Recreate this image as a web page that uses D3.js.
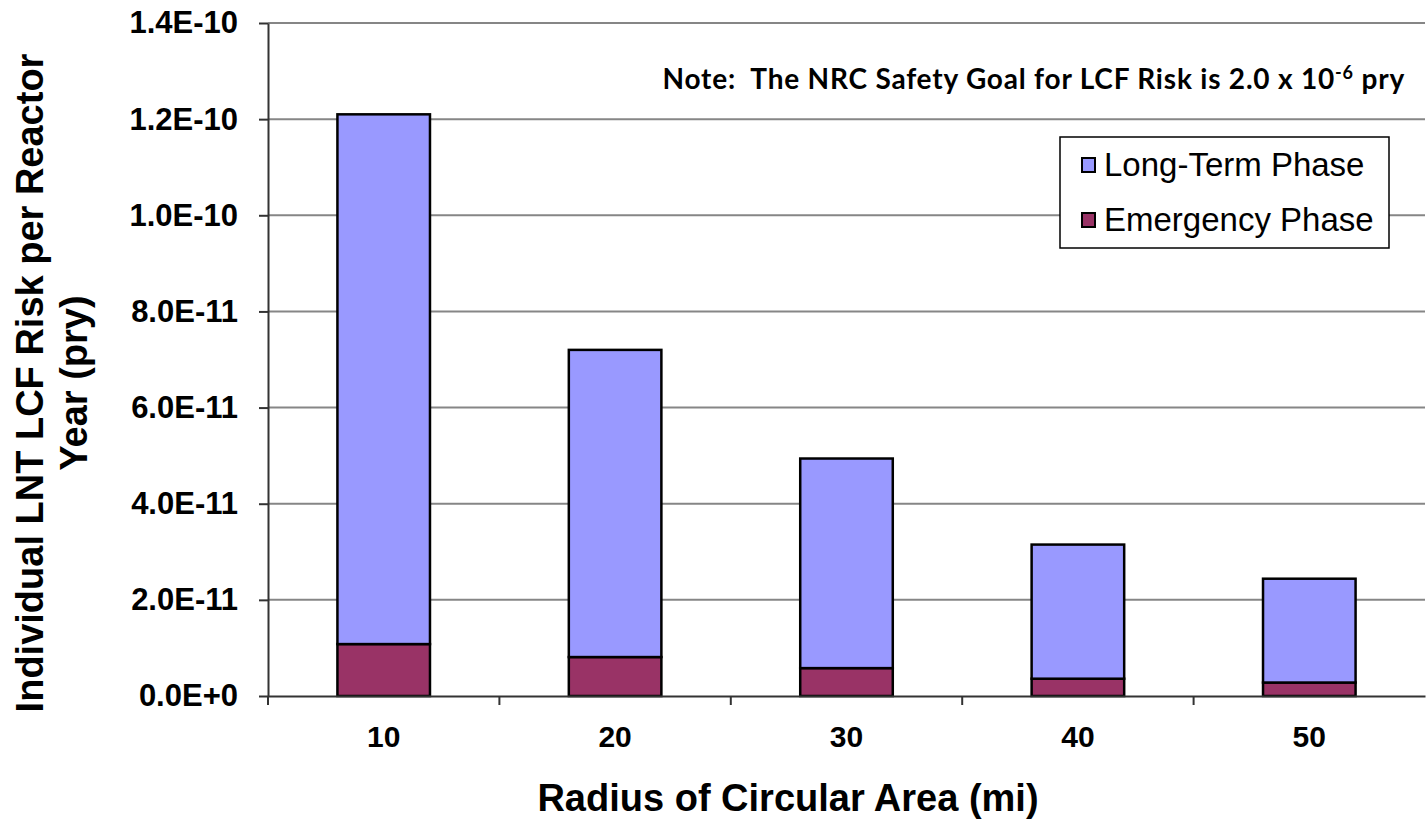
<!DOCTYPE html>
<html>
<head>
<meta charset="utf-8">
<script src="https://cdn.jsdelivr.net/npm/d3@7"></script>
<style>
  body { margin: 0; background: #fff; }
  svg { display: block; }
  .tick text { font-family: "Liberation Sans", Arial, sans-serif; font-weight: bold; fill: #000; }
</style>
</head>
<body>
<div id="chart"></div>
<script>
var radii = ['10', '20', '30', '40', '50'];
var emergencyPhase = [1.08e-11, 8.1e-12, 5.8e-12, 3.6e-12, 2.8e-12];
var longTermPhase = [1.102e-10, 6.39e-11, 4.36e-11, 2.79e-11, 2.16e-11];
var yTickValues = [0, 2e-11, 4e-11, 6e-11, 8e-11, 1e-10, 1.2e-10, 1.4e-10];
var yTickLabels = ['0.0E+0', '2.0E-11', '4.0E-11', '6.0E-11', '8.0E-11', '1.0E-10', '1.2E-10', '1.4E-10'];
var seriesNames = ['Long-Term Phase', 'Emergency Phase'];
var seriesColors = ['#9999ff', '#993366'];

var svgWidth = 1426, svgHeight = 820,
    margin = { top: 23, right: 1, bottom: 124, left: 268 },
    chartWidth = svgWidth - margin.left - margin.right,
    chartHeight = svgHeight - margin.top - margin.bottom;

var rows = radii.map(function (r, i) {
    return { radius: r, emergency: emergencyPhase[i], longTerm: longTermPhase[i] };
});
var stack = d3.stack().keys(['emergency', 'longTerm'])(rows);

var x = d3.scaleBand().domain(radii).range([0, chartWidth])
    .paddingInner(0.6).paddingOuter(0.3);
var y = d3.scaleLinear().domain([0, 1.4e-10]).range([chartHeight, 0]);

var svg = d3.select('#chart').append('svg')
    .attr('width', svgWidth)
    .attr('height', svgHeight);
var g = svg.append('g')
    .attr('transform', 'translate(' + margin.left + ',' + margin.top + ')');

// gridlines
g.append('g')
    .selectAll('line')
    .data(yTickValues.slice(1))
    .enter().append('line')
    .attr('x1', 0).attr('x2', chartWidth)
    .attr('y1', function (d) { return y(d); })
    .attr('y2', function (d) { return y(d); })
    .attr('stroke', '#868686')
    .attr('stroke-width', 2);

// y axis
var yAxis = d3.axisLeft(y).tickValues(yTickValues)
    .tickFormat(function (d, i) { return yTickLabels[i]; })
    .tickSizeInner(9).tickSizeOuter(0).tickPadding(21);
var yAx = g.append('g').call(yAxis);
yAx.select('.domain').attr('stroke', '#333').attr('stroke-width', 2);
yAx.selectAll('.tick line').attr('stroke', '#333').attr('stroke-width', 2);
yAx.selectAll('.tick text').style('font-size', '31px');

// bars
var colorFor = { longTerm: seriesColors[0], emergency: seriesColors[1] };
g.selectAll('g.layer')
    .data(stack)
    .enter().append('g')
    .attr('class', 'layer')
    .attr('fill', function (d) { return colorFor[d.key]; })
    .selectAll('rect')
    .data(function (d) { return d; })
    .enter().append('rect')
    .attr('x', function (d) { return x(d.data.radius); })
    .attr('width', x.bandwidth())
    .attr('y', function (d) { return y(d[1]); })
    .attr('height', function (d) { return y(d[0]) - y(d[1]); })
    .attr('stroke', '#000')
    .attr('stroke-width', 2.5);

// x axis
var xAxis = d3.axisBottom(x).tickSize(0).tickPadding(30);
var xAx = g.append('g')
    .attr('transform', 'translate(0,' + chartHeight + ')')
    .call(xAxis);
xAx.select('.domain').attr('stroke', '#333').attr('stroke-width', 2);
xAx.selectAll('.tick text').style('font-size', '30px');
// separator ticks between categories
var step = x.step();
var sepPos = function (d, i) { return i === 0 ? 0 : x(d) - step * x.paddingInner() / 2; };
xAx.selectAll('line.sep')
    .data(radii)
    .enter().append('line')
    .attr('class', 'sep')
    .attr('x1', sepPos).attr('x2', sepPos)
    .attr('y1', 0).attr('y2', 9)
    .attr('stroke', '#333').attr('stroke-width', 2);

// axis titles
svg.append('text')
    .attr('x', 788).attr('y', 811)
    .attr('text-anchor', 'middle')
    .style('font-family', '"Liberation Sans", Arial, sans-serif')
    .style('font-weight', 'bold')
    .style('font-size', '38px')
    .text('Radius of Circular Area (mi)');

var yTitle = svg.append('text')
    .attr('transform', 'translate(43,383) rotate(-90)')
    .attr('text-anchor', 'middle')
    .style('font-family', '"Liberation Sans", Arial, sans-serif')
    .style('font-weight', 'bold')
    .style('font-size', '38px');
yTitle.append('tspan').attr('x', 0).attr('y', 0).text('Individual LNT LCF Risk per Reactor');
yTitle.append('tspan').attr('x', 0).attr('y', 44).text('Year (pry)');

// note
var note = svg.append('text')
    .attr('x', 1405).attr('y', 89)
    .attr('text-anchor', 'end')
    .style('font-family', 'Lato, "Open Sans", sans-serif')
    .style('font-weight', 'bold')
    .style('font-size', '28px')
    .style('letter-spacing', '0.8px');
note.append('tspan').text('Note:\u00a0 The NRC Safety Goal for LCF Risk is 2.0 x 10');
note.append('tspan').attr('dy', -10).style('font-size', '18px').text('-6');
note.append('tspan').attr('dy', 10).text(' pry');

// legend
var legend = svg.append('g').attr('transform', 'translate(1060,137)');
legend.append('rect')
    .attr('width', 329).attr('height', 111)
    .attr('fill', '#fff').attr('stroke', '#000').attr('stroke-width', 1.5);
var items = legend.selectAll('g.item')
    .data(seriesNames)
    .enter().append('g')
    .attr('class', 'item')
    .attr('transform', function (d, i) { return 'translate(0,' + (28 + i * 55) + ')'; });
items.append('rect')
    .attr('x', 22).attr('y', -7)
    .attr('width', 13).attr('height', 14)
    .attr('fill', function (d, i) { return seriesColors[i]; })
    .attr('stroke', '#000').attr('stroke-width', 2);
items.append('text')
    .attr('x', 44).attr('y', 11)
    .style('font-family', '"Liberation Sans", Arial, sans-serif')
    .style('font-size', '33px')
    .text(function (d) { return d; });
</script>
</body>
</html>
